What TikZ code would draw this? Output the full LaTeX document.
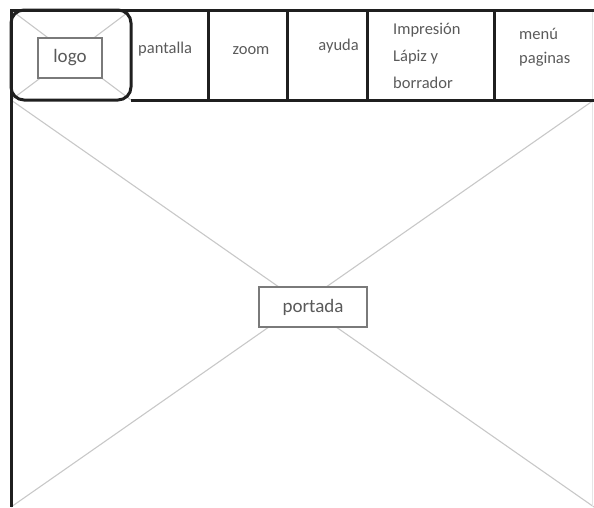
\documentclass[tikz,border=0pt]{standalone}
\usepackage{fontspec}
\setmainfont{Carlito}
\definecolor{txt}{HTML}{5A5A5A}
\definecolor{xline}{HTML}{C8C8C8}
\definecolor{boxline}{HTML}{7A7A7A}
\begin{document}
\begin{tikzpicture}[x=1pt,y=-1pt,
  frame/.style={line width=3pt,black!88},
  divider/.style={line width=3pt,black!88},
  cross/.style={line width=1.1pt,xline},
  lbl/.style={text=txt,inner sep=0pt,font=\fontsize{16.5}{27}\selectfont},
  bigbox/.style={draw=boxline,line width=1.4pt,fill=white,text=txt,
    font=\fontsize{19}{24}\selectfont,inner sep=0pt,anchor=center}]
\useasboundingbox (0,0) rectangle (594,507);
% main area corners
\coordinate (mTL) at (11,100);
\coordinate (mTR) at (594,100);
\coordinate (mBL) at (11,507);
\coordinate (mBR) at (594,507);
\coordinate (lTL) at (11,10);
\coordinate (lTR) at (131,10);
\coordinate (lBL) at (11,100);
\coordinate (lBR) at (131,100);
% crosses
\draw[cross] (mTL) -- (mBR);
\draw[cross] (mBL) -- (mTR);
\draw[cross] (lTL) -- (lBR);
\draw[cross] (lBL) -- (lTR);
% faint right edge
\draw[line width=0.8pt,black!10] (592,10) -- (592,507);
% frame
\coordinate (fTL) at (11,10);
\coordinate (fTR) at (594,10);
\draw[frame] (fTR) -- (fTL) -- (mBL);
\draw[frame,rounded corners=13pt] (lTL) rectangle (lBR);
\draw[frame] (lBR) -- (mTR);
\foreach \x/\n in {208/a,287/b,367/c,494/d}{
  \coordinate (t\n) at (\x,10);
  \coordinate (b\n) at (\x,100);
  \draw[divider] (t\n) -- (b\n);
}
% boxes
\node[bigbox,minimum width=64pt,minimum height=40pt] (logo) at (70,58) {logo};
\node[bigbox,minimum width=108pt,minimum height=40pt] (portada) at (313,307) {portada};
% labels
\node[lbl,anchor=base west] (pantalla) at (138,53) {pantalla};
\node[lbl,anchor=base] (zoom) at (251,54) {zoom};
\node[lbl,anchor=base east] (ayuda) at (359,50) {ayuda};
\node[lbl,anchor=base west] (impresion) at (393,34) {Impresión};
\node[lbl,anchor=base west] (lapiz) at (393,61) {Lápiz y};
\node[lbl,anchor=base west] (borrador) at (393,88) {borrador};
\node[lbl,anchor=base west] (menu) at (519,39) {menú};
\node[lbl,anchor=base west] (paginas) at (519,63) {paginas};
\end{tikzpicture}
\end{document}
